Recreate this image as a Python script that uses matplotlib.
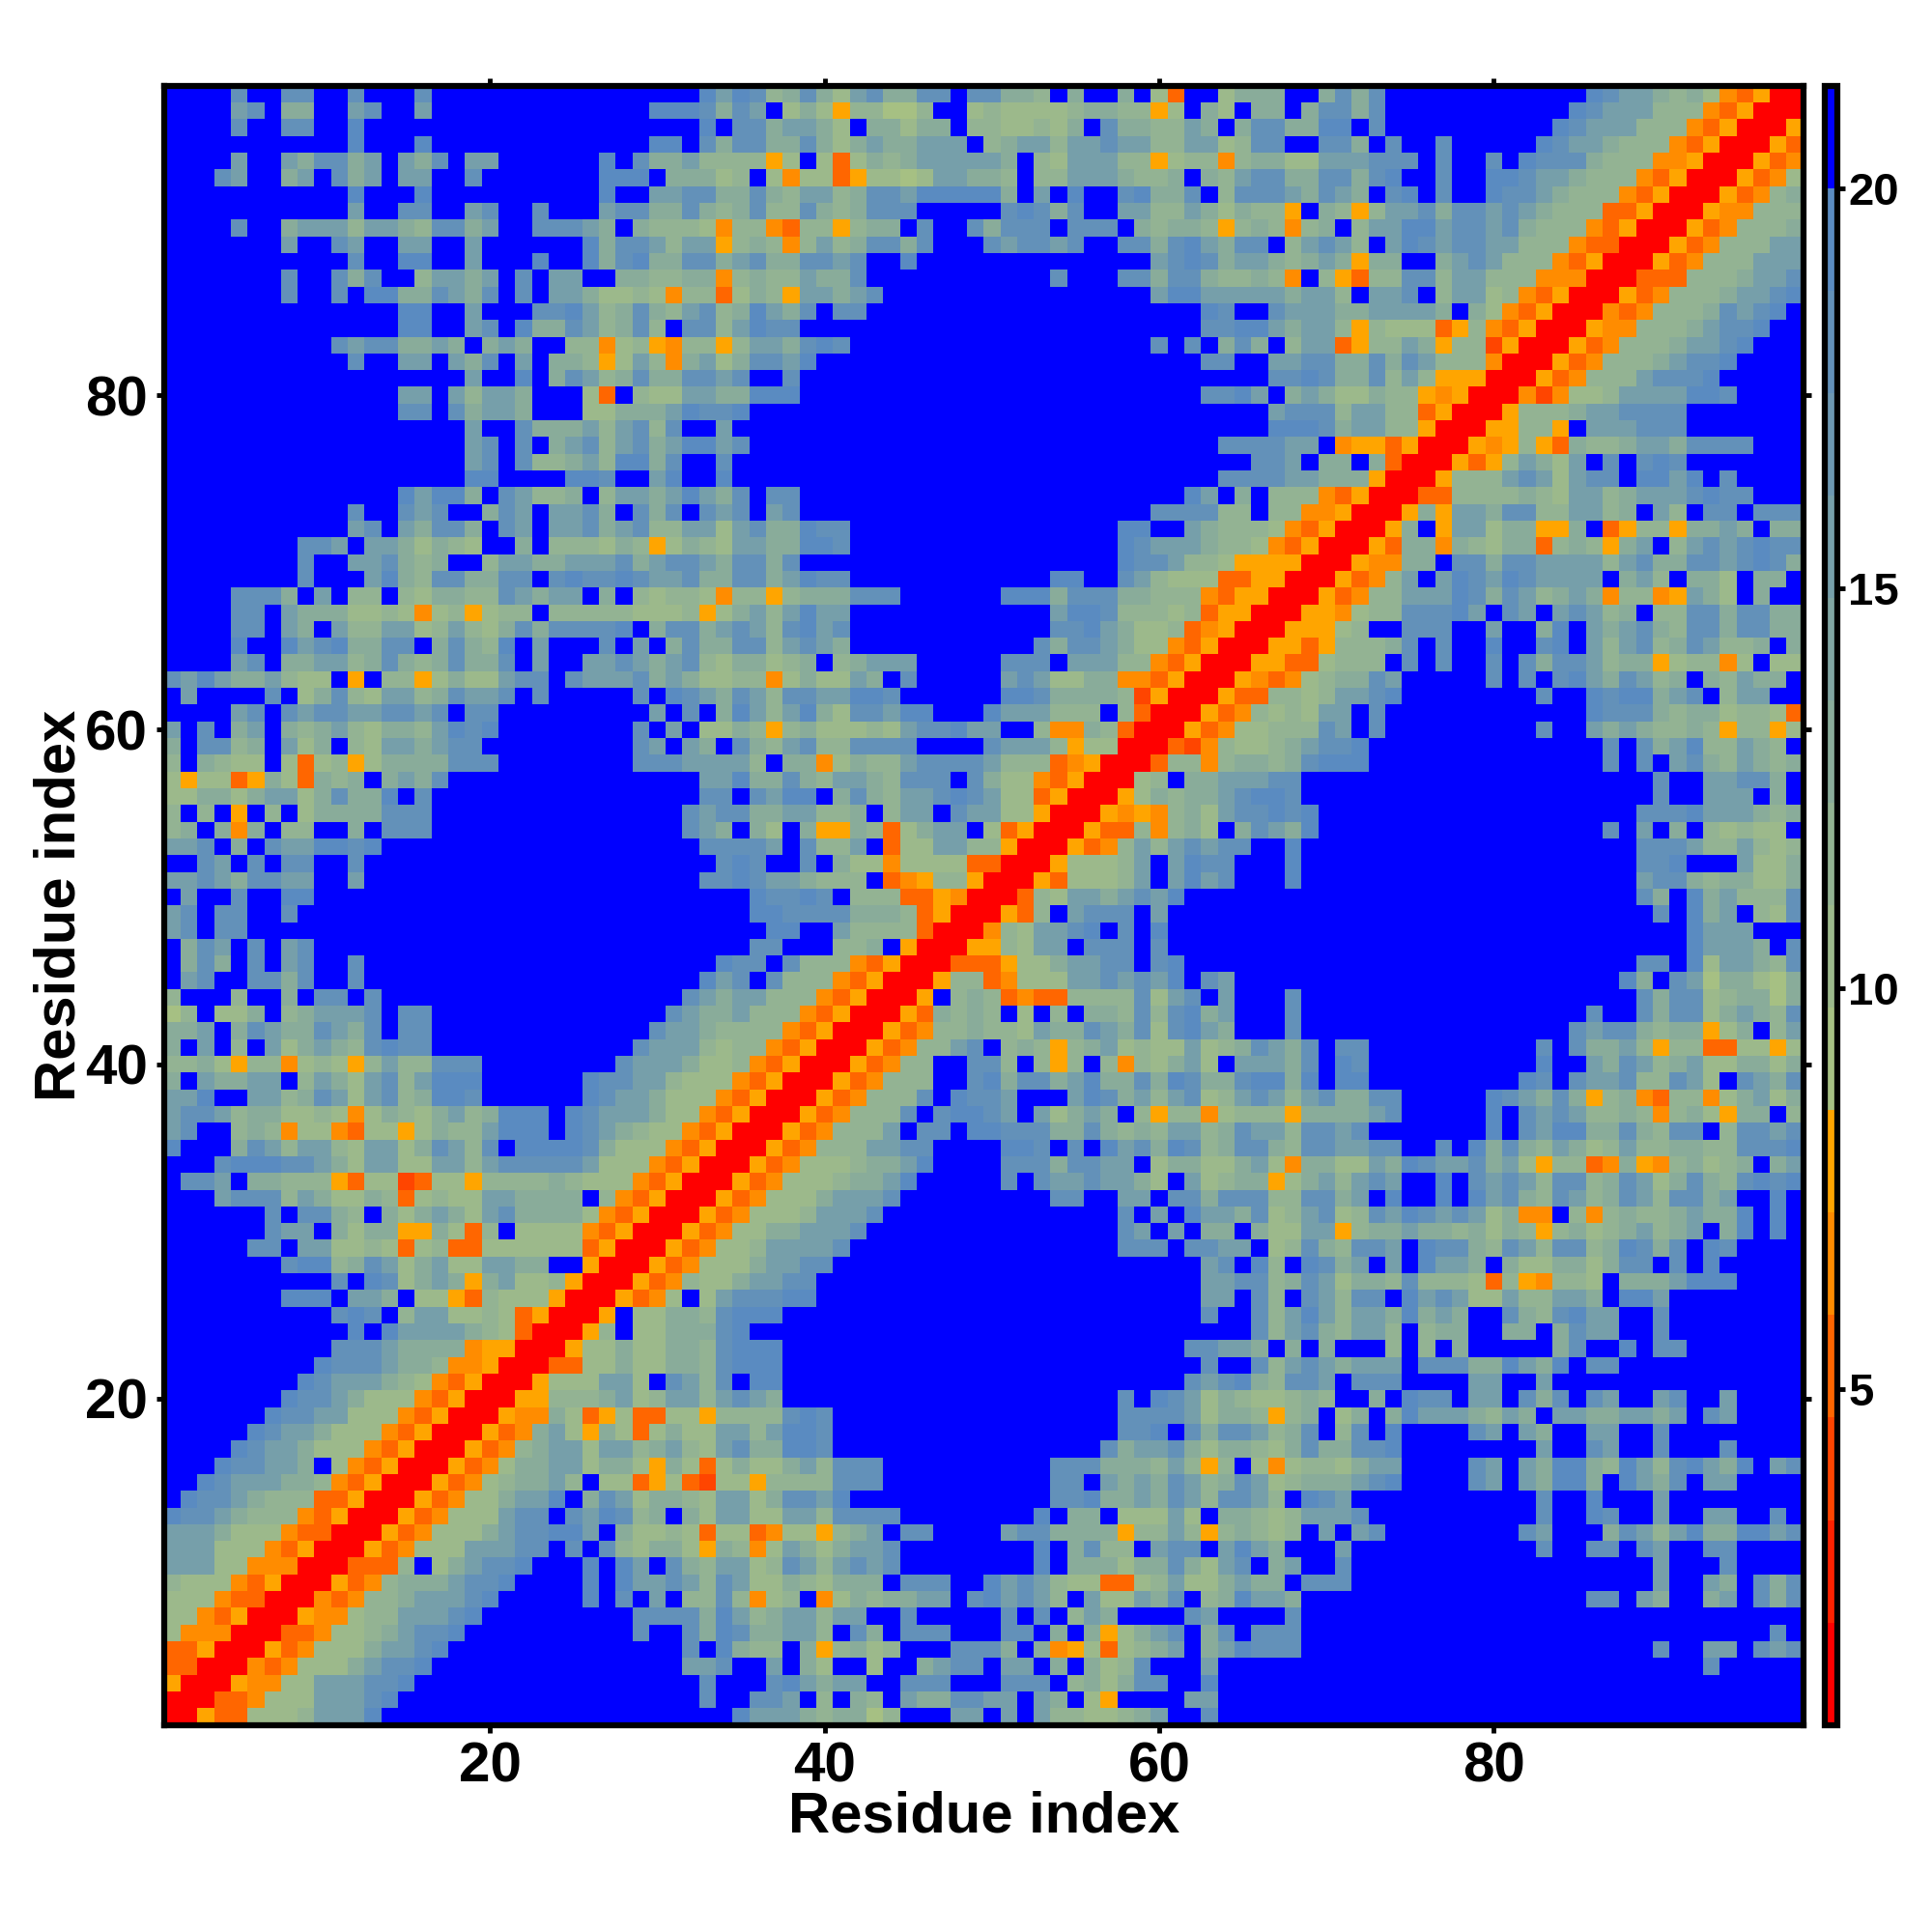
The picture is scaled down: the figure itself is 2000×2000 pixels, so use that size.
import numpy as np
import matplotlib
matplotlib.use("Agg")
import matplotlib.pyplot as plt
from matplotlib.colors import ListedColormap, BoundaryNorm, LinearSegmentedColormap

plt.rcParams["font.family"] = ["Liberation Sans", "DejaVu Sans"]
plt.rcParams["font.weight"] = "bold"

N = 98
# Contact map, y = 98 downwards. The matrix is symmetric.
# Each character is a colour class: 0..5 warm classes, 7..d green to steel, . blue
cols_1_34 = [
"....c..cc..c...c................db",
"....bc.aa..bc..b.............dddca",
"....c..cc..d....................d.",
"...........d...d.............dd.ca",
"....b..baccab.bac.bb......d.caab99",
"...cb..ab.cab.bb..c.......ddd.aaa8",
"...........d...d..........d..bbcca",
"...........b..cc..bc..c...bccaaca9",
"....c..abbb9bba9ccab..cccba.a99984",
".......b..cb..bb..b......daccb9bb5",
"...........c..dd..b...d..dacdaacca",
".......c..cac..9bbab.c.bb..aa99aa4",
".......c..c.ddaacbac.c.bba88984993",
"..............dd..b...ccdb9aca9bc9",
"..............dd..bc.daacb9ac9.cc9",
"..........cbccaaba.aba..9948954995",
"...........c..bb.bac.b.aa958b94ab8",
"..................b..d.acb9acaaccb",
"..............bb.b9bba...83.988bba",
"..............cc.cabba...88aaabdcc",
"..................b..caaab9bc9c..b",
"..................bc.c.abc9bcabddb",
"..................bc.c99ab9ddac..c",
"..................dd....ddc..bd..d",
"..............dbdda.cb99a.9bbabdba",
"...........c..cbc..acb.bbca.cac.cb",
"...........bc.bacca.cb.bbcabc99bb8",
"........ccb.bba8a98..a.9998a958a98",
"........c..bbca9a..9bbaabbbcabccba",
"........c...bda9ccaacc.cdccdcbbcaa",
"....ccca.b.99.98aa99cbabb.a.989984",
"....cc.baaa88984895899.99999888958",
"....cc.ba.b99bb89b98acaccccd.accab",
"....d..dbcdaacc.aca9d.b...c.b.acaa",
"....bc.aabb9aca9acaac.b..bbcbabc98",
"cbdbaab988.5.9958a88bcc.cbbbcaba88",
".b....c.8ac98bb9acbbc.c.....c.dcba",
"....bc.cbccbbccbc.cc.........b.c.a",
"b.c.ab.a9ab98aa9bdcd........c.b.88",
"a.cc9a.b8a.98bbabcc.........cb.ba.",
"9.a988.838958aaaaccc........cccbbb",
"858835a83a9a.abac...............bb",
"88aa8abb8acaad.c................cc",
"9.9.5.9.8aaaaccc...............cbc",
"9a.a4a.99..a.ccc...............cba",
"bbc.a.cbbddcd" + "." * 19 + "cc",
"..cb.c.cc..c" + "." * 21 + "c",
"bbcbaccbb..b" + "." * 20 + "cc",
".b..c..dd" + "." * 25,
"bc.cc..c" + "." * 26,
"bc.cc" + "." * 29,
".acb.c.bc" + "." * 25,
".aca.c.bc..c" + "." * 21 + "d",
".bc..ccac..c" + "." * 20 + "db",
"9...9..a.cc.c" + "." * 18 + "cba",
"79.88a.9abbbc.cc" + "." * 14 + "cbaa",
"aab.acbaacbac.cc" + "." * 13 + "cbba9",
"a.b.9.b8aba9cdcc" + "." * 12 + "cbbb98",
"99a85" "99" "4" "898" "5" "9b" "99" "ccc" "........" "c" "b" "bb" "a" "88",
"a.baabb.9ba8bc9bddd" "......" "dccbb9888",
"bbd..bb9acb8bc9addc" "......" "dcbba8884",
"bccb9aa" "8898" "4" "8a98ab9a" "ddd" "." "d" "c" "bbb" "a" "88" "43",
"bc..9a94" "88" "4" "3" "88" "5" "8" "a9" "9" "b" "ddd" "." "d" "c" "b" "a" "9" "88" "4" "3" "5",
"d..." "a" "c" "b" "9" "bb" "9" "8" "bb" "8" "a" "c" "b" "9" "c" "." "dddd" "c" "a" "888" "4" "3" "5" "0",
"...cddd" "ccb" "a" "8" "bb" "88" "bb" "9" "b" "c" "ccc" "c" "b" "888" "4" "3" "5" "00",
".ccb.aa" "999" "5" "3" "88" "2" "3" "88" "5" "9999" "a" "9" "88" "8" "4" "3" "5" "000",
"...bccc" "9" "b" "a" "88" "a" "9" "3" "8" "9" "88" "bb" "a" "aaa" "." "9" "4" "3" "5" "000" "5",
"......" "c" "." "cc" "a" "9" "." "a" "8" "a" "b" "a" "8" "b" "c" "aaaa" "8" "4" "3" "5" "000" "5" "3",
"......c" "bb" "." "a" "8" "aa" "55" "a" "8" "3" "9" "." "8888" "4" "3" "5" "000" "5" "3" "4",
"....." "cc" "." "bb" "889" "8" "3" "8" "9" "33" "888888" "3" "5" "000" "5" "3" "4" "8",
"......." "cdd" "9a" "c" "b" "8" "a" "b" "8" "8" "b" "b" "a" "a" ".." "5" "000" "5" "3" "4" "88",
".........." "c" "." "d" "c" "8" "a" "b" "a" "5" "a" "b" "88" "9" "5" "000" "5" "3" "4" "888",
"......." "ddd" "." "bb" "a" "." "88" "5" "3" "9" "888" "5" "000" "5" "3" "4" "8" "." "8" "a",
".........." "cdc" "." "9" "bb" "88" "9" "8" "3" "5" "000" "5" "." "8" "99" "b" "b" "c",
"..........." "d" "." "d" "bbbb" "a" "9" "8" "3" "000" "5" "8" "." "99" "bb" "cc",
".........." "cccb" "aaaa" "4" "55" "000" "5" "88" "9" "99" "a" "bbb",
"........." "d" "ccc" "b" "aa" "9" "44" "5" "000" "3" "2" "88" "99" "9" "a" "9" "c" "b",
"........" "d" "c" "bb" "b" "a" "9" "8" "4" "3" "5" "000" "5" "888" "bb" "9" "." "cb" "b" "d",
"......." "d" "cc" "b" "a" "888" "4" "3" "5" "000" "55" "999" "8" "9" "99" "bb" "a" "b",
"......" "d" "cc" "bb" "888" "4" "3" "5" "000" "5" "44" "9" "8" "3" "5" "8" "33" "88" "5" "8",
"....." "d" "c" "bb" "a" "888" "4" "3" "5" "000" "5" "3" "4" "8" "a" "8" "5" "a" "9" "3" "8" "a" "9" "8" "b",
"...." "d" "c" "bb" "a" "888" "4" "3" "5" "000" "5" "3" "4" "8" "9" "b" "a" "8" "cc" "9" "a" "b" "a" "9" "b",
"..." "d" "cc" "bb" "a" "." "8" "4" "3" "5" "000" "5" "3" "4" "8" "99" "b" "a" "8" "8" "9" "8" "5" "9" "8" "3" "8",
".." "d" "c" "bbb" "aa" "9" "4" "3" "5" "000" "5" "3" "4" "9999" "b" "a" "." "8" "9" "3" "5" "8" "3" "2" "8",
"." "d" "cc" "b" "a" "999" "33" "5" "000" "5" "3" "4" "888" "a" "b" "c" "." "a" "b" "b" "9" "a" "9" "8" "b" "a",
"d" "ccb" "a9" "99" "4" "3" "5" "000" "5" "3" "4" "888" "a" "b" "c" "." "c" "b" "c" "c" "b" "b" "." "a" "8" "b",
"bbb" "a" "888" "4" "33" "000" "5" "3" "4" "888" "9" "a" "b" "c" "d" "c" "b" "." "a" "99" "88" "3" "8",
"bbb" "88" "8" "4" "3" "5" "000" "5" "3" "4" "8" "888" "a" "b" "c" "d" "." "c" "." "c" "a" "bb" "8" "8" "5" "8",
"bbb" "88" "444" "000" "333" "8" "." "88" "9a" "c" "d" "..." "c" "." "c" "b" "." "cb" "a" "b",
"9888" "4" "3" "5" "000" "5" "3" "4" "888" "9" "abb" "d" "...." "d" "." "d" "bbb" "a" "8" "b",
"888" "4" "33" "000" "4" "3" "4" "8889" "9" "a" "b" "d" "....." "d" "." "d" "." "b" "." "88" "b",
"88" "4" "3" "5" "000" "5" "44" "8889" "abb" "d" "........." "c" "dd" "bc" "c",
"8" "444" "000" "33" "4" "8889" "abb" "d" ".........." "c" ".." "ccc",
"33" "5" "000" "5" "3" "4" "888" "9ab" "c" "d" ".............." "c" "." "c",
"33" "000" "4" "3" "4" "888" "9ab" "c" "d" "..............." "ccc",
"5" "000" "5" "44" "888" "9ab" "c" "d" "................." "d" ".",
"000" "33" "4" "888" "9ab" "b" "d" ".................." "d" ".",
"00" "5" "33" "888" "9ab" "c" "d" ".....................",
]

cols_35_67 = [
"dc9aca8bcaacc.ccaa9.a..a.83..8aaa",
"cb.8a8599779..8988889aa9958.a8.aa",
"ccabba8.aa8aa.998898a.caa99ba.acc",
"ccaaca8abaabbb.9abb9bbcbb99bb89cc",
"9958.838a9abbbbba.98bbb99589949aa",
"9.8488358878bbaa9.99bbba99a.a9bcc",
"aca9bb9accbddddda.b.d..cdaac.9ccc",
"ac99ca9accc.....cdcac..bb99ba8a99",
"99439959aa.c..caccc.ccc.a9aa959a9",
"9a949b9accac...cbccbc..ccacdbacc.",
"bcaaccbc..d" + "." * 14 + "bcdcabba",
"9a99baac" + "." * 11 + "c" "..." "cc" "a" "cc" "a" "99" "a" "9",
"8a95bbabc" + "." * 16 + "bddbbbbb",
"adbac.cc" + "." * 20 + "dc..c",
"bdcc" + "." * 24 + "ccddb",
"9bbacdc" + "." * 18 + "c.c.aca.",
"accbd" + "." * 23 + "cc..b",
"c..c" + "." * 28 + "c",
"addd" + "." * 24 + "ccdb.",
"d" + "." * 31 + "b",
"." * 32 + "d",
"c" + "." * 28 + "cccc",
"." * 31 + "cc",
"." * 29 + "cccc",
"c.cc" + "." * 23 + "db.a.9",
"c.bc" + "." * 21 + "cccc99.9",
"bcaadcc" + "." * 16 + "dd..ba9998",
"bbaaddc" + "." * 16 + "dcbbba9984",
"ccac" + "." * 19 + "dccb998555",
"ccabdcc" + "." * 12 + "dd..cb98883355",
"9959aaaccc" + "." * 6 + "dddacccaa99943550",
"ab9bdbb" + "." * 12 + "bddc9998935500",
"cb9cdbc" + "." * 12 + "ccdba889345000",
"cc9bcba" + "." * 11 + "caccba884350005",
"aa89a.9abbb.....ccc.bbb9943500",
"9948a88ba.c.....bcb88aa443500",
"cb9ccbbddc......ddcaaaa92500",
"db9bda8ccbdd...dbbb999.9300",
"a959a88898bccdbb..944a9300",
"ca9bc99cccc....cbbb958800",
"b9.aa48a99bccccb99934500",
"daaca9bba9ccc.ca8843500",
".cbdd.aca9bbcdcb883500",
"caabb99a.9bb.cbb88500",
".a8.a55a938abb.83500",
"ccb.c99b.388bb99500",
"dc..c.a88488883300",
"dcbba999.34599500",
".dccdc.999335400",
".ddccccaaa93500",
"..dd..b9999300",
".cc...99a.500",
"cc.c99943500",
"c.c99943500",
"bb99943500",
"b99943500",
"99943500",
"9943500",
"943500",
"43500",
"3500",
"500",
"00",
"0",
]

cols_68_98 = [
"..acac" + "." * 12 + "dcbba9a843500",
".accac" + "." * 11 + "dcbbb99943500",
"aadd.c" + "." * 10 + "dcbbb99943500",
"..cca.c..c....." "dcbba99943500",
"88bbbccc.c..c.dccca99944500",
"aaccacd..c..ddcbba99943500",
"bacba.cd.c..dccba99943500",
"5.a959bbcaccbcba99933500",
"49a.9bbddbccbca99943500",
"9bcb9.bdcbccbb99943300",
"9aba5aa..abcb99943500",
"4.95399cc9bb99944400",
"abb9.bbc.9bb8943500",
"bbbaabbbba.a843500",
"abb95988835943500",
"9bb3599ba5992500",
"bccaacacb999400",
"cdcaac9b955500",
"aba88a9954500",
"ccc9bb993500",
"ddcabb99500",
"bb.4553500",
"b.aa.a300",
"bbaaa500",
"9943500",
"944500",
"43500",
"3500",
"500",
"00",
"0",
]

class_names = "012345789abcd."
class_bins = [0, 1, 2, 3, 4, 5, 6, 7, 8, 9, 11, 13, 14, 15]
bin_edges = 0.8 + 1.28 * np.arange(17)
warm_colors = ["#ff0000", "#ff2200", "#ff4500", "#ff6600", "#ff8c00", "#ffa500"]
ramp = LinearSegmentedColormap.from_list("ramp", ["#a6c083", "#5a8bc1"])
cool_colors = [ramp(t) for t in np.linspace(0, 1, 9)]
cmap = ListedColormap(warm_colors + cool_colors + ["#0000ff"])
norm = BoundaryNorm(bin_edges, cmap.N)

lookup = dict(zip(class_names, class_bins))
rows = [""] * N
for i in range(N):
    y = N - i
    s = cols_1_34[i].ljust(34, ".")[:34]
    if y >= 35:
        s += cols_35_67[i].ljust(33, ".")[:33]
    if y >= 68:
        s += cols_68_98[i].ljust(31, ".")[:31]
    rows[i] = s

Z = np.full((N, N), 21.0)
for i, s in enumerate(rows):
    y = N - i
    for x0, ch in enumerate(s):
        x = x0 + 1
        if x <= y:
            v = 0.8 + 1.28 * (lookup.get(ch, 15) + 0.5)
            Z[y - 1, x - 1] = v
            Z[x - 1, y - 1] = v

fig = plt.figure(figsize=(20, 20), dpi=100)
ax = fig.add_axes([0.0848, 0.1072, 0.8486, 0.8484])
edges = np.arange(0.5, N + 1)
mesh = ax.pcolormesh(edges, edges, Z, cmap=cmap, norm=norm, linewidth=0, rasterized=True)
ax.set_xlim(0.5, 98.5)
ax.set_ylim(0.5, 98.5)
ticks = [20, 40, 60, 80]
ax.set_xticks(ticks)
ax.set_yticks(ticks)
ax.tick_params(axis="both", which="major", top=True, right=True, length=6, width=3.5,
               labelsize=42, pad=6)
ax.set_xlabel("Residue index", fontsize=43, fontweight="bold", labelpad=-2)
ax.set_ylabel("Residue index", fontsize=43, fontweight="bold", labelpad=-1)
for sp in ax.spines.values():
    sp.set_linewidth(4.5)

cax = fig.add_axes([0.9445, 0.1072, 0.0065, 0.8484])
cb = fig.colorbar(mesh, cax=cax, ticks=[5, 10, 15, 20], spacing="proportional", drawedges=False)
cb.ax.tick_params(length=6, width=3.5, labelsize=34, pad=2)
cb.outline.set_linewidth(4.5)
cb.ax.minorticks_off()

fig.savefig("out.png", dpi=100)
